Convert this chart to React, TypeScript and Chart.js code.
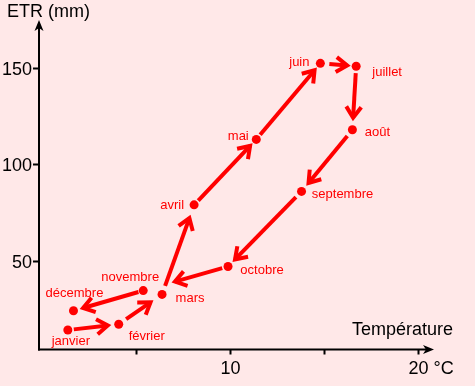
import React, { useEffect, useRef } from 'react';
import { Chart, registerables } from 'chart.js';

Chart.register(...registerables);

// ---- Data ----
const months = ['janvier', 'février', 'mars', 'avril', 'mai', 'juin', 'juillet', 'août', 'septembre', 'octobre', 'novembre', 'décembre'];
const temperature = [1.4, 4.1, 6.4, 8.1, 11.4, 14.8, 16.7, 16.5, 13.8, 9.9, 5.4, 1.7];
const etr = [14, 17, 32.5, 79, 113, 152.5, 151, 118, 86, 47, 34.5, 24];

const yTicks = [50, 100, 150];
const yTickLabels = ['50', '100', '150'];
const xTicks = [5, 10, 15, 20];
const xTickLabels = ['', '10', '', '20 °C'];

const yTitle = 'ETR (mm)';
const xTitle = 'Température';

// ---- Label placement (pixel offsets from the point, text centred, alphabetic baseline) ----
const labelOffsets: [number, number][] = [
  [3, 15], [28, 16], [28, 8], [-22, 4], [-18, 1], [-21, 3],
  [31, 10], [25, 6], [41, 7], [34, 8], [-13, -10], [1, -14],
];
// gaps (px) left between each arrow and its start / end point
const arrowStartGap = [6, 9, 9, 6, 6, 9, 7, 8, 8, 6, 5];
const arrowEndGap = [9, 12, 12, 7, 7, 7, 10, 9, 8, 31, 8];

const RED = '#ff0000';
const BG = '#ffe8e8';
const FONT = "'Liberation Sans', Arial, Helvetica, sans-serif";

function drawArrow(ctx: CanvasRenderingContext2D, x1: number, y1: number, x2: number, y2: number, g1: number, g2: number) {
  const dx = x2 - x1;
  const dy = y2 - y1;
  const L = Math.hypot(dx, dy);
  const ux = dx / L;
  const uy = dy / L;
  const sx = x1 + ux * g1;
  const sy = y1 + uy * g1;
  const ex = x2 - ux * g2;
  const ey = y2 - uy * g2;
  const head = 15;
  const ang = Math.PI / 6;
  ctx.save();
  ctx.strokeStyle = RED;
  ctx.lineWidth = 4;
  ctx.lineCap = 'butt';
  ctx.beginPath();
  ctx.moveTo(sx, sy);
  ctx.lineTo(ex - ux * 2, ey - uy * 2);
  ctx.stroke();
  const a = Math.atan2(uy, ux);
  ctx.lineJoin = 'miter';
  ctx.beginPath();
  ctx.moveTo(ex - head * Math.cos(a - ang), ey - head * Math.sin(a - ang));
  ctx.lineTo(ex - ux * 2, ey - uy * 2);
  ctx.lineTo(ex - head * Math.cos(a + ang), ey - head * Math.sin(a + ang));
  ctx.stroke();
  ctx.restore();
}

const overlayPlugin = {
  id: 'overlay',
  beforeDraw(chart: any) {
    const { ctx, width, height } = chart;
    ctx.save();
    ctx.fillStyle = BG;
    ctx.fillRect(0, 0, width, height);
    ctx.restore();
  },
  beforeDatasetsDraw(chart: any) {
    const ctx = chart.ctx as CanvasRenderingContext2D;
    const pts = chart.getDatasetMeta(0).data;
    for (let i = 0; i < pts.length - 1; i++) {
      drawArrow(ctx, pts[i].x, pts[i].y, pts[i + 1].x, pts[i + 1].y, arrowStartGap[i], arrowEndGap[i]);
    }
  },
  afterDatasetsDraw(chart: any) {
    const ctx = chart.ctx as CanvasRenderingContext2D;
    const { chartArea, scales } = chart;
    const xs = scales.x;
    const ys = scales.y;
    const ax = chartArea.left;
    const ay = chartArea.bottom;

    ctx.save();
    ctx.strokeStyle = '#000';
    ctx.fillStyle = '#000';
    ctx.lineWidth = 2;

    // y axis
    ctx.beginPath();
    ctx.moveTo(ax, ay + 1);
    ctx.lineTo(ax, chartArea.top + 4);
    ctx.stroke();
    ctx.beginPath();
    ctx.moveTo(ax, chartArea.top);
    ctx.lineTo(ax - 4.5, chartArea.top + 11);
    ctx.lineTo(ax, chartArea.top + 8);
    ctx.lineTo(ax + 4.5, chartArea.top + 11);
    ctx.closePath();
    ctx.fill();

    // x axis
    ctx.beginPath();
    ctx.moveTo(ax - 1, ay);
    ctx.lineTo(chartArea.right - 4, ay);
    ctx.stroke();
    ctx.beginPath();
    ctx.moveTo(chartArea.right, ay);
    ctx.lineTo(chartArea.right - 11, ay - 4.5);
    ctx.lineTo(chartArea.right - 8, ay);
    ctx.lineTo(chartArea.right - 11, ay + 4.5);
    ctx.closePath();
    ctx.fill();

    ctx.font = `18px ${FONT}`;
    // y ticks
    ctx.textAlign = 'right';
    ctx.textBaseline = 'middle';
    yTicks.forEach((v, i) => {
      const py = Math.round(ys.getPixelForValue(v)) + 0.5;
      ctx.beginPath();
      ctx.moveTo(ax - 6, py);
      ctx.lineTo(ax, py);
      ctx.stroke();
      ctx.fillText(yTickLabels[i], ax - 7, py + 1.5);
    });
    // x ticks
    ctx.textBaseline = 'alphabetic';
    xTicks.forEach((v, i) => {
      const px = Math.round(xs.getPixelForValue(v)) + 0.5;
      ctx.beginPath();
      ctx.moveTo(px, ay);
      ctx.lineTo(px, ay + 5);
      ctx.stroke();
      const lbl = xTickLabels[i];
      if (lbl) {
        const num = lbl.split(' ')[0];
        const w = ctx.measureText(num).width;
        ctx.textAlign = 'left';
        ctx.fillText(lbl, px - w / 2, ay + 24);
      }
    });

    // titles
    ctx.textAlign = 'left';
    ctx.fillText(yTitle, 7, 17);
    ctx.fillText(xTitle, 352, 335);

    // month labels
    const pts = chart.getDatasetMeta(0).data;
    ctx.fillStyle = RED;
    ctx.font = `13px ${FONT}`;
    ctx.textAlign = 'center';
    ctx.textBaseline = 'alphabetic';
    pts.forEach((p: any, i: number) => {
      const [dx, dy] = labelOffsets[i];
      ctx.fillText(months[i], p.x + dx, p.y + dy);
    });
    ctx.restore();
  },
};

export default function App() {
  const ref = useRef<HTMLCanvasElement | null>(null);

  useEffect(() => {
    document.body.style.margin = '0';
    document.body.style.background = BG;
    const canvas = ref.current;
    if (!canvas) return;
    const chart = new Chart(canvas, {
      type: 'scatter',
      data: {
        datasets: [
          {
            label: 'ETR',
            data: temperature.map((t, i) => ({ x: t, y: etr[i] })),
            backgroundColor: RED,
            borderColor: RED,
            borderWidth: 0,
            pointRadius: 4.5,
            pointHoverRadius: 4.5,
          },
        ],
      },
      options: {
        responsive: false,
        animation: false,
        devicePixelRatio: 1,
        layout: { padding: { left: 39, top: 20, right: 41, bottom: 36.5 } },
        plugins: {
          legend: { display: false },
          tooltip: { enabled: false },
        },
        scales: {
          x: { type: 'linear', min: -0.13, max: 20.83, display: false },
          y: { type: 'linear', min: 3.9, max: 175, display: false },
        },
      },
      plugins: [overlayPlugin],
    });
    return () => chart.destroy();
  }, []);

  return (
    <div style={{ width: 475, height: 386, background: BG }}>
      <canvas ref={ref} width={475} height={386} style={{ display: 'block' }} />
    </div>
  );
}
